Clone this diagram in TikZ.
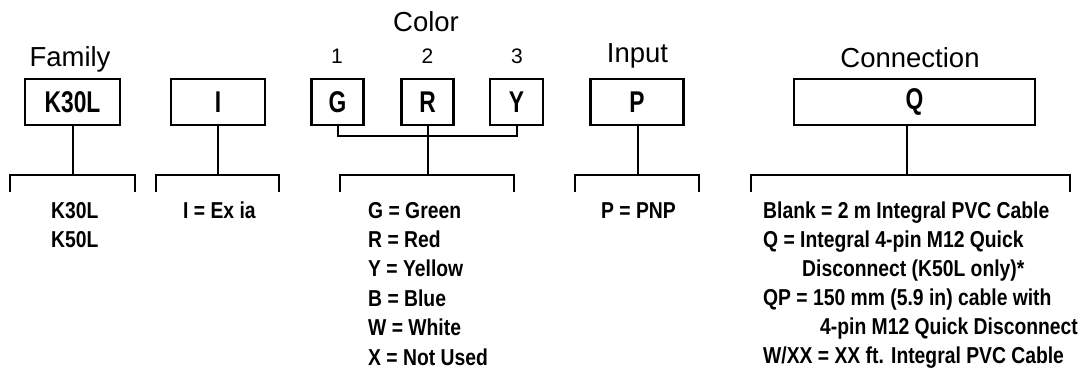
\documentclass[tikz,border=0pt]{standalone}
\usepackage{fontspec}
\setmainfont{Liberation Sans}
\newfontfamily\condf[FakeStretch=0.84]{Liberation Sans Bold}
\newfontfamily\boxf[FakeStretch=0.76]{Liberation Sans Bold}
\begin{document}
\begin{tikzpicture}[x=1pt,y=-1pt,
  codebox/.style={draw,line width=2.6pt,minimum height=46pt,inner sep=0pt,
    font=\boxf\fontsize{30}{30}\selectfont},
  header/.style={anchor=base,inner sep=0pt,font=\fontsize{27.5}{27.5}\selectfont},
  numlabel/.style={anchor=base,inner sep=0pt,font=\fontsize{21}{21}\selectfont},
  item/.style={anchor=base west,inner sep=0pt,font=\condf\fontsize{23}{23}\selectfont},
  conn/.style={line width=2pt},
  bracket/.style={line width=2pt,line cap=rect}]
\useasboundingbox (0,0) rectangle (1086,370);

% headers
\node[header] (hfam) at (70,66) {Family};
\node[header] (hcol) at (426,31) {Color};
\node[header] (hinp) at (637.5,62) {Input};
\node[header] (hcon) at (910,67) {Connection};
\node[numlabel] (n1) at (337,63) {1};
\node[numlabel] (n2) at (427.5,63) {2};
\node[numlabel] (n3) at (517,63) {3};

% code boxes
\node[codebox,minimum width=95pt] (bk) at (72.5,102) {K30L};
\node[codebox,minimum width=94pt] (bi) at (218,102) {I};
\node[codebox,minimum width=52pt] (bg) at (337.5,102) {G};
\node[codebox,minimum width=52pt] (br) at (427.5,102) {R};
\node[codebox,minimum width=53pt] (by) at (516.5,102) {Y};
\node[codebox,minimum width=93pt] (bp) at (637,102) {P};
\node[codebox,minimum width=241pt] (bq) at (914.5,102) {Q};

% junction coordinates
\coordinate (jk) at (73,175);
\coordinate (ji) at (218,175);
\coordinate (jc) at (428,175);
\coordinate (jp) at (638,175);
\coordinate (jq) at (907,175);
\coordinate (jg) at (338,136);
\coordinate (jy) at (517,136);

% bracket ends
\coordinate (kL) at (10,191);  \coordinate (kR) at (135,191);
\coordinate (iL) at (156,191); \coordinate (iR) at (279,191);
\coordinate (cL) at (340,191); \coordinate (cR) at (514,191);
\coordinate (pL) at (575,191); \coordinate (pR) at (699,191);
\coordinate (qL) at (751,191); \coordinate (qR) at (1070,191);

% connectors
\draw[conn] (bk.south -| jk) -- (jk);
\draw[conn] (bi.south -| ji) -- (ji);
\draw[conn] (br.south -| jc) -- (jc);
\draw[conn] (bp.south -| jp) -- (jp);
\draw[conn] (bq.south -| jq) -- (jq);
\draw[conn] (bg.south -| jg) -- (jg) -- (jy) -- (by.south -| jy);

% brackets
\draw[bracket] (kL) |- (jk) -| (kR);
\draw[bracket] (iL) |- (ji) -| (iR);
\draw[bracket] (cL) |- (jc) -| (cR);
\draw[bracket] (pL) |- (jp) -| (pR);
\draw[bracket] (qL) |- (jq) -| (qR);

% option texts
\node[item] (f1) at (51,218) {K30L};
\node[item] (f2) at (51,247.4) {K50L};
\node[item] (i1) at (183,218) {I = Ex ia};
\node[item] (c1) at (368,218) {G = Green};
\node[item] (c2) at (368,247.4) {R = Red};
\node[item] (c3) at (368,276.8) {Y = Yellow};
\node[item] (c4) at (368,306.2) {B = Blue};
\node[item] (c5) at (368,335.6) {W = White};
\node[item] (c6) at (368,365) {X = Not Used};
\node[item] (p1) at (601,218) {P = PNP};
\node[item] (q1) at (763,218.5) {Blank = 2 m Integral PVC Cable};
\node[item] (q2) at (763,247.5) {Q = Integral 4-pin M12 Quick};
\node[item] (q3) at (802,276.5) {Disconnect (K50L only)*};
\node[item] (q4) at (763,305.5) {QP = 150 mm (5.9 in) cable with};
\node[item] (q5) at (820,334.5) {4-pin M12 Quick Disconnect};
\node[item] (q6) at (763,363.5) {W/XX = XX ft. Integral PVC Cable};
\end{tikzpicture}
\end{document}
